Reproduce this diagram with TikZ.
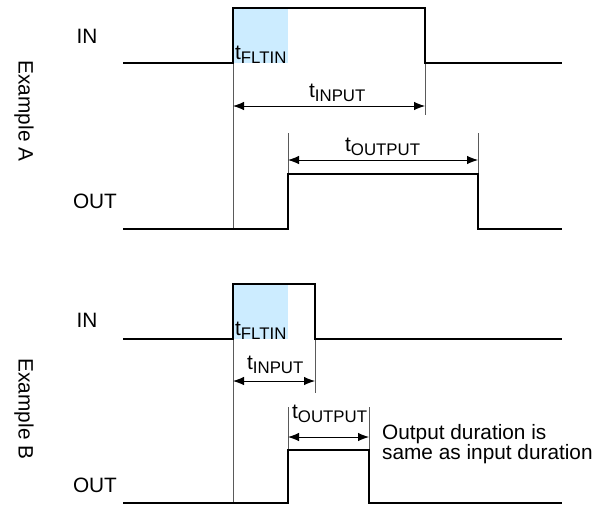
\documentclass[tikz,border=0pt]{standalone}
\usepackage{fontspec}
\setmainfont{Liberation Sans}
\usetikzlibrary{arrows.meta}
\definecolor{fltblue}{RGB}{204,236,255}
\definecolor{guide}{RGB}{90,90,90}
\newcommand\mysubs[1]{\raisebox{-4pt}{\fontsize{16.8}{18}\selectfont #1}}
\tikzset{
  sig/.style={line width=2.4pt, line join=miter},
  guideline/.style={draw=guide, line width=0.8pt},
  dim/.style={line width=0.9pt, {Latex[length=11pt,width=8.5pt]}-{Latex[length=11pt,width=8.5pt]}},
  lbl/.style={inner sep=0pt, anchor=base west, font=\fontsize{20.8}{24}\selectfont},
  side/.style={inner sep=0pt, font=\fontsize{20.8}{24}\selectfont},
}
\begin{document}
\begin{tikzpicture}[x=1pt,y=-1pt]
\useasboundingbox (0,0) rectangle (610,506);
% ---------- Example A ----------
\fill[fltblue] (233,8) rectangle (288,63);
\draw[guideline] (233,63) -- (233,228);
\draw[guideline] (425,63) -- (425,115);
\draw[guideline] (288,174) -- (288,133);
\draw[guideline] (478,174) -- (478,133);
\draw[sig] (123,63) -- (233,63) -- (233,8) -- (425,8) -- (425,63) -- (562,63);
\draw[sig] (123,229) -- (288,229) -- (288,174) -- (478,174) -- (478,229) -- (562,229);
\coordinate (ainl) at (233,106); \coordinate (ainr) at (425,106);
\draw[dim] (ainl) -- (ainr);
\coordinate (aoutl) at (288,160); \coordinate (aoutr) at (478,160);
\draw[dim] (aoutl) -- (aoutr);
\node[lbl] (afl) at (235,59) {t\mysubs{FLTIN}};
\node[lbl] (ain) at (309,97) {t\mysubs{INPUT}};
\node[lbl] (aout) at (345,151) {t\mysubs{OUTPUT}};
\node[side, anchor=base] (ainlbl) at (87,43) {IN};
\node[side, anchor=base] (aoutlbl) at (95,208) {OUT};
\node[side, rotate=-90] (exa) at (24,111) {Example A};
% ---------- Example B ----------
\fill[fltblue] (233,284) rectangle (288,339);
\draw[guideline] (233,339) -- (233,503);
\draw[guideline] (315,339) -- (315,393);
\draw[guideline] (288,450) -- (288,407);
\draw[guideline] (369,450) -- (369,407);
\draw[sig] (123,339) -- (233,339) -- (233,284) -- (315,284) -- (315,339) -- (562,339);
\draw[sig] (123,503) -- (288,503) -- (288,450) -- (369,450) -- (369,503) -- (562,503);
\coordinate (binl) at (233,381); \coordinate (binr) at (315,381);
\draw[dim] (binl) -- (binr);
\coordinate (boutl) at (288,437); \coordinate (boutr) at (369,437);
\draw[dim] (boutl) -- (boutr);
\node[lbl] (bfl) at (235,335) {t\mysubs{FLTIN}};
\node[lbl] (bin) at (247,369) {t\mysubs{INPUT}};
\node[lbl] (bout) at (292,418) {t\mysubs{OUTPUT}};
\node[side, anchor=base] (binlbl) at (87,327) {IN};
\node[side, anchor=base] (boutlbl) at (95,492) {OUT};
\node[side, rotate=-90] (exb) at (24,409) {Example B};
\node[lbl] (note1) at (382,439) {Output duration is};
\node[lbl] (note2) at (382,459) {same as input duration};
\end{tikzpicture}
\end{document}
